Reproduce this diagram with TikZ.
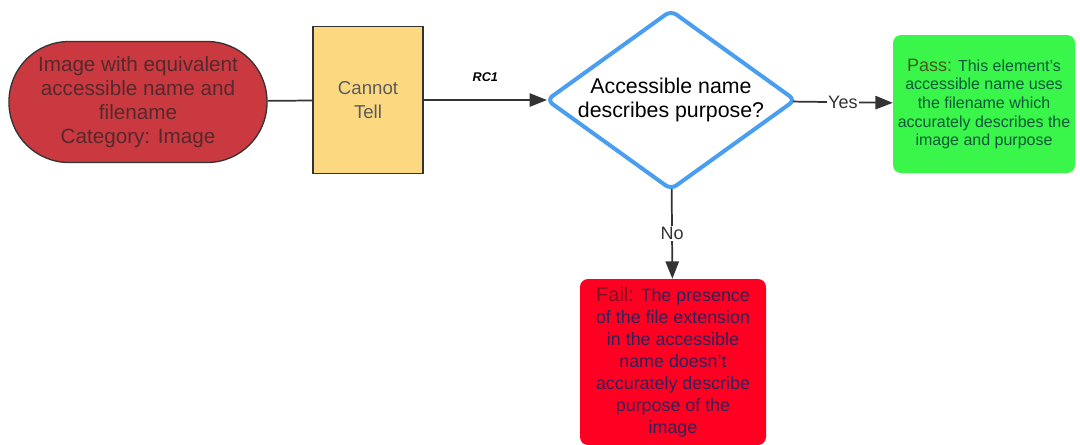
\documentclass[tikz,border=0pt]{standalone}
\usepackage{fontspec}
\setmainfont{Liberation Sans}
\usetikzlibrary{arrows.meta,shapes.geometric}

\definecolor{termred}{HTML}{C9393F}
\definecolor{termtext}{HTML}{55292D}
\definecolor{tellyellow}{HTML}{FCD880}
\definecolor{askblue}{HTML}{4A9EF0}
\definecolor{passgreen}{HTML}{3AF54A}
\definecolor{passhead}{HTML}{4A5A1E}
\definecolor{passtext}{HTML}{0E5A3A}
\definecolor{failred}{HTML}{FF0022}
\definecolor{failhead}{HTML}{7A1424}
\definecolor{failtext}{HTML}{2E2458}
\definecolor{linegray}{HTML}{333333}

\begin{document}
\begin{tikzpicture}[x=0.75pt,y=-0.75pt,
  flow/.style={draw=linegray,line width=1.3pt},
  arr/.style={flow,-{Triangle[length=13pt,width=10pt]}},
  lbl/.style={fill=white,inner sep=1pt,text=linegray,font=\fontsize{13.5}{15}\selectfont}]
\useasboundingbox (0,0) rectangle (1080,444);
\node[draw=linegray,line width=1pt,fill=termred,rounded corners=45pt,
  minimum width=193.5pt,minimum height=90.75pt,align=center,text=termtext,
  font=\fontsize{15.5}{18}\selectfont] (start) at (138,102)
  {Image with equivalent\\accessible name and\\filename\\Category: Image};
\node[draw=linegray,line width=1pt,fill=tellyellow,
  minimum width=82.5pt,minimum height=110pt,align=center,text=linegray!80,
  font=\fontsize{14}{18}\selectfont] (tell) at (368,100) {Cannot\\Tell};
\node[diamond,draw=askblue,line width=3pt,rounded corners=5pt,aspect=1.39,
  inner sep=0pt,outer sep=0pt,minimum width=183pt,minimum height=132pt,align=center,
  font=\fontsize{16}{18.5}\selectfont] (ask) at (671,100)
  {Accessible name\\describes purpose?};
\node[fill=passgreen,rounded corners=6pt,minimum width=136.5pt,
  minimum height=103.5pt,align=center,text=passtext,
  font=\fontsize{12}{14}\selectfont] (pass) at (984,104)
  {{\color{passhead}\fontsize{13.5}{14}\selectfont Pass:} This element's\\accessible name uses\\the filename which\\accurately describes the\\image and purpose};
\node[fill=failred,rounded corners=6pt,minimum width=139.5pt,
  minimum height=124.5pt,align=center,text=failtext,
  font=\fontsize{13.4}{16.5}\selectfont] (fail) at (673,362)
  {{\color{failhead}\fontsize{15}{16.5}\selectfont Fail:} The presence\\of the file extension\\in the accessible\\name doesn't\\accurately describe\\purpose of the\\image};
\draw[flow] (start) -- (tell);
\draw[arr] (tell) -- node[above=10pt,font=\bfseries\itshape\fontsize{9.5}{11}\selectfont] {RC1} (ask);
\draw[arr] (ask) -- node[lbl] {Yes} (pass);
\draw[arr] (ask) -- node[lbl] {No} (fail);
\end{tikzpicture}
\end{document}
